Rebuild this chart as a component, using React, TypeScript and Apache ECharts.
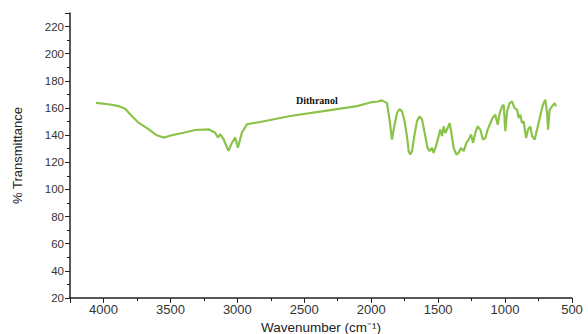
import React, { useEffect, useRef } from "react";
import * as echarts from "echarts";

const wavenumbers = [4055, 3950, 3888, 3838, 3788, 3738, 3664, 3601, 3552, 3489, 3402, 3315, 3215, 3165, 3145, 3128, 3103, 3066, 3040, 3016, 2996, 2966, 2928, 2829, 2605, 2356, 2106, 2007, 1950, 1920, 1882, 1863, 1845, 1828, 1807, 1788, 1770, 1753, 1733, 1720, 1708, 1695, 1678, 1658, 1638, 1620, 1596, 1579, 1564, 1546, 1534, 1516, 1496, 1484, 1471, 1459, 1446, 1429, 1414, 1401, 1384, 1364, 1347, 1329, 1309, 1289, 1272, 1254, 1239, 1222, 1205, 1185, 1165, 1147, 1130, 1110, 1093, 1073, 1055, 1040, 1022, 1010, 998, 985, 966, 948, 929, 910, 898, 886, 873, 861, 843, 828, 811, 798, 779, 761, 744, 724, 712, 699, 686, 679, 667, 649, 630, 619];
const transmittance = [163.8, 162.6, 161.4, 159.4, 154.1, 149.2, 144.4, 139.9, 138.2, 139.9, 141.8, 143.8, 144.3, 141.8, 138.2, 140.7, 137.0, 128.4, 134.5, 138.2, 130.8, 141.8, 148.0, 149.7, 154.1, 157.7, 161.4, 164.1, 164.8, 165.6, 163.6, 151.4, 136.7, 146.5, 156.3, 159.2, 157.5, 151.4, 139.3, 128.2, 125.7, 128.2, 139.3, 150.3, 153.8, 151.4, 139.3, 130.6, 128.2, 130.6, 127.0, 131.9, 139.3, 144.1, 139.3, 146.5, 141.6, 145.3, 148.9, 141.6, 130.6, 125.7, 127.0, 130.6, 128.2, 134.3, 136.7, 140.4, 134.3, 141.6, 146.5, 144.1, 136.7, 138.0, 144.1, 148.9, 152.6, 155.0, 147.7, 156.3, 161.2, 162.4, 142.9, 157.5, 163.6, 164.8, 159.9, 158.7, 152.6, 155.0, 148.9, 150.2, 137.9, 144.1, 146.5, 139.2, 136.7, 144.1, 151.4, 159.9, 163.6, 166.0, 156.3, 144.1, 158.7, 161.2, 163.6, 161.2];

const seriesName = "Dithranol";
const xTitle = "Wavenumber (cm\u207B\u00B9)";
const yTitle = "% Transmittance";

export default function App() {
  const ref = useRef<HTMLDivElement>(null);
  useEffect(() => {
    if (!ref.current) return;
    const chart = echarts.init(ref.current, undefined, { renderer: "svg" });
    const data = wavenumbers.map((w, i) => [w, transmittance[i]]);
    const axisColor = "#222";
    const font = "Liberation Sans, Arial, sans-serif";
    chart.setOption({
      animation: false,
      backgroundColor: "#fff",
      title: {
        text: seriesName,
        left: 291,
        top: 90,
        textStyle: { fontFamily: "Liberation Serif, Times New Roman, serif", fontWeight: "bold", fontSize: 10, color: "#111" },
      },
      grid: { left: 70, right: 16, top: 13, bottom: 36, outerBoundsMode: "none", containLabel: false },
      xAxis: {
        type: "value",
        inverse: true,
        min: 500,
        max: 4250,
        interval: 500,
        name: xTitle,
        nameLocation: "middle",
        nameGap: 14,
        nameTextStyle: { color: "#222", fontSize: 13.5, lineHeight: 13, fontFamily: font },
        axisLine: { lineStyle: { color: axisColor, width: 1.5 } },
        axisTick: { show: true, length: 5, lineStyle: { color: axisColor } },
        minorTick: { show: true, splitNumber: 2, length: 3, lineStyle: { color: axisColor } },
        axisLabel: { color: "#333", fontSize: 13, fontFamily: font, margin: 5, showMaxLabel: false, formatter: (v: number) => String(v) },
        splitLine: { show: false },
      },
      yAxis: {
        type: "value",
        min: 20,
        max: 230,
        interval: 20,
        name: yTitle,
        nameLocation: "middle",
        nameRotate: 90,
        nameGap: 46,
        nameTextStyle: { color: "#222", fontSize: 13, fontFamily: font },
        axisLine: { show: true, lineStyle: { color: axisColor, width: 1.5 } },
        axisTick: { show: true, length: 5, lineStyle: { color: axisColor } },
        minorTick: { show: true, splitNumber: 2, length: 3, lineStyle: { color: axisColor } },
        axisLabel: { color: "#333", fontSize: 11.5, fontFamily: font, margin: 6, showMaxLabel: false, formatter: (v: number) => String(v) },
        splitLine: { show: false },
      },
      series: [
        {
          name: seriesName,
          type: "line",
          data,
          showSymbol: false,
          lineStyle: { color: "#8bc34a", width: 2.2 },
          itemStyle: { color: "#8bc34a" },
        },
      ],
    });
    return () => chart.dispose();
  }, []);
  return <div ref={ref} style={{ width: 588, height: 334, position: "absolute", left: 0, top: 0 }} />;
}
